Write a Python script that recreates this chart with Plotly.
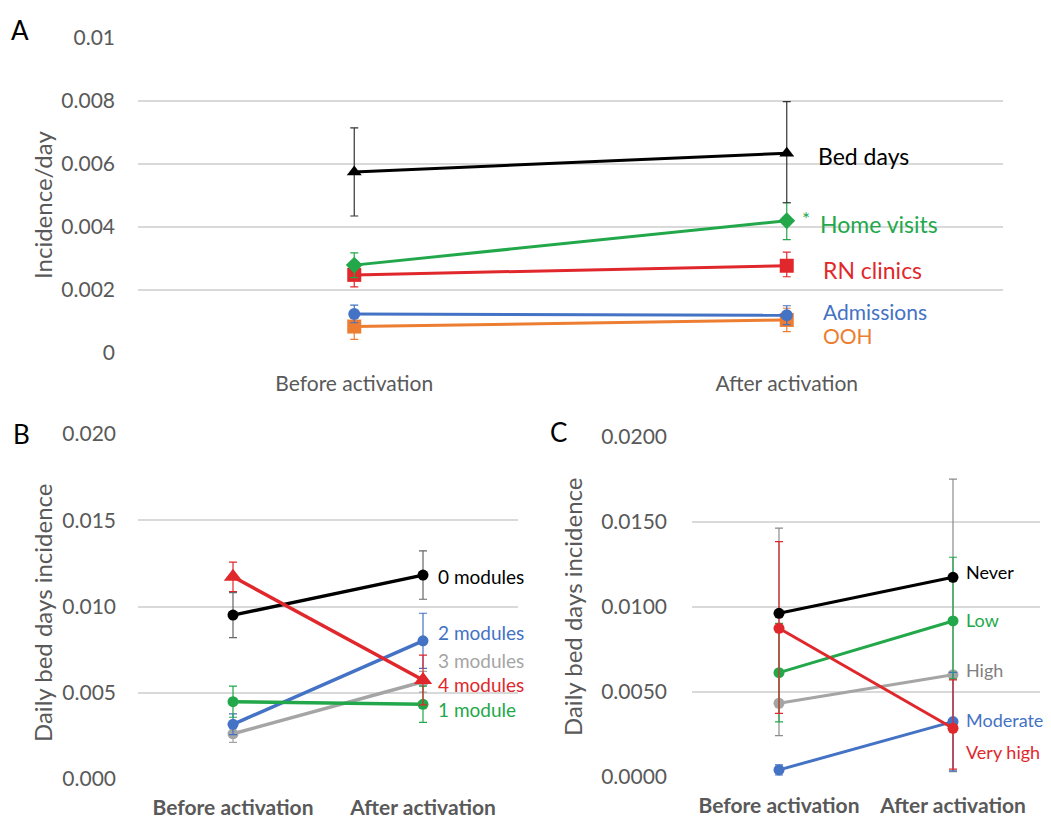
import plotly.graph_objects as go

# ---------------- data ----------------
categories = ["Before activation", "After activation"]

# Panel A (incidence/day)
a_names = ["Bed days", "Home visits", "RN clinics", "Admissions", "OOH"]
a_bed = [0.00575, 0.00634]
a_bed_up = [0.00140, 0.00164]
a_bed_dn = [0.00140, 0.00157]
a_home = [0.00279, 0.00420]
a_home_up = [0.00039, 0.00057]
a_home_dn = [0.00040, 0.00060]
a_rn = [0.00248, 0.00277]
a_rn_up = [0.00040, 0.00043]
a_rn_dn = [0.00038, 0.00035]
a_adm = [0.00124, 0.00120]
a_adm_up = [0.00028, 0.00030]
a_adm_dn = [0.00028, 0.00030]
a_ooh = [0.00084, 0.00105]
a_ooh_up = [0.00041, 0.00037]
a_ooh_dn = [0.00041, 0.00037]

# Panel B (daily bed days incidence by modules)
b_names = ["0 modules", "2 modules", "3 modules", "4 modules", "1 module"]
b_0 = [0.00950, 0.01182]
b_0_err = [0.00130, 0.00140]
b_1 = [0.00448, 0.00433]
b_1_err = [0.00090, 0.00105]
b_2 = [0.00317, 0.00801]
b_2_err = [0.00060, 0.00160]
b_3 = [0.00262, 0.00564]
b_3_err = [0.00050, 0.00060]
b_4 = [0.01172, 0.00574]
b_4_err = [0.00085, 0.00144]

# Panel C (daily bed days incidence by engagement)
c_names = ["Never", "Low", "High", "Moderate", "Very high"]
c_never = [0.00961, 0.01173]
c_low = [0.00612, 0.00916]
c_low_up = [0.00290, 0.00375]
c_low_dn = [0.00290, 0.00340]
c_high = [0.00432, 0.00600]
c_high_up = [0.01030, 0.01150]
c_high_dn = [0.00190, 0.00570]
c_mod = [0.00040, 0.00324]
c_mod_err = [0.00030, 0.00290]
c_vhigh = [0.00873, 0.00285]
c_vhigh_up = [0.00510, 0.00285]
c_vhigh_dn = [0.00500, 0.00240]

# ---------------- styling ----------------
FONT = "Lato, 'Open Sans', Arial, sans-serif"
BLACK = "#000000"
GREEN = "#22a84a"
RED = "#e0282c"
BLUE = "#4472c4"
ORANGE = "#ed7d31"
GRAY = "#a5a5a5"
TICK = "#595959"
GRID = "#d9d9d9"
W, H = 1051, 819

fig = go.Figure()


def add(xa, ya, y, color, symbol, size, lw, up=None, dn=None, ecolor=None, name=""):
    err = None
    if up is not None:
        err = dict(type="data", symmetric=False, array=up,
                   arrayminus=dn if dn is not None else up,
                   color=ecolor or color, thickness=1.2, width=4)
    fig.add_trace(go.Scatter(
        x=categories, y=y, xaxis=xa, yaxis=ya, mode="lines+markers", name=name,
        line=dict(color=color, width=lw),
        marker=dict(color=color, symbol=symbol, size=size),
        error_y=err, showlegend=False, cliponaxis=False))


# Panel A (drawn bottom-first so top series overlay)
add("x", "y", a_ooh, ORANGE, "square", 14, 3, a_ooh_up, a_ooh_dn, name=a_names[4])
add("x", "y", a_adm, BLUE, "circle", 12, 3, a_adm_up, a_adm_dn, name=a_names[3])
add("x", "y", a_rn, RED, "square", 14, 3, a_rn_up, a_rn_dn, name=a_names[2])
add("x", "y", a_home, GREEN, "diamond", 13, 3, a_home_up, a_home_dn, name=a_names[1])
add("x", "y", a_bed, BLACK, "triangle-up", 13, 3, a_bed_up, a_bed_dn, ecolor="#333333", name=a_names[0])

# Panel B
add("x2", "y2", b_3, GRAY, "circle", 11, 3.5, b_3_err, ecolor=GRAY, name=b_names[2])
add("x2", "y2", b_2, BLUE, "circle", 11, 3.5, b_2_err, name=b_names[1])
add("x2", "y2", b_1, GREEN, "circle", 11, 3.5, b_1_err, name=b_names[4])
add("x2", "y2", b_0, BLACK, "circle", 11, 3.5, b_0_err, ecolor="#666666", name=b_names[0])
add("x2", "y2", b_4, RED, "triangle-up", 16, 3.5, b_4_err, name=b_names[3])

# Panel C
add("x3", "y3", c_high, GRAY, "circle", 11, 3, c_high_up, c_high_dn, ecolor="#8c8c8c", name=c_names[2])
add("x3", "y3", c_mod, BLUE, "circle", 11, 3, c_mod_err, name=c_names[3])
add("x3", "y3", c_low, GREEN, "circle", 11, 3, c_low_up, c_low_dn, name=c_names[1])
add("x3", "y3", c_vhigh, RED, "circle", 11, 3, c_vhigh_up, c_vhigh_dn, name=c_names[4])
add("x3", "y3", c_never, BLACK, "circle", 11, 3, name=c_names[0])


def px_x(p):
    return p / W


def px_y(p):
    return 1 - p / H


xcommon = dict(type="category", categoryorder="array", categoryarray=categories,
               range=[-0.5, 1.5], showgrid=False, zeroline=False, showline=False,
               automargin=False, ticks="", tickfont=dict(family=FONT, size=21, color=TICK))
ycommon = dict(showgrid=True, gridcolor=GRID, gridwidth=1.5, zeroline=False,
               automargin=False, showline=False, ticks="",
               tickfont=dict(family=FONT, size=21, color=TICK))
bold_x = dict(family=FONT, size=21, color=TICK, weight="bold")

fig.update_layout(
    template="none",
    width=W, height=H, margin=dict(l=0, r=0, t=0, b=0, pad=0, autoexpand=False),
    paper_bgcolor="white", plot_bgcolor="white",
    font=dict(family=FONT),
    xaxis=dict(xcommon, domain=[px_x(138), px_x(1003)], anchor="y", ticklabelstandoff=16),
    yaxis=dict(ycommon, domain=[px_y(353), px_y(38)], anchor="x", range=[0, 0.01],
               tickvals=[0, 0.002, 0.004, 0.006, 0.008, 0.01],
               ticktext=["0", "0.002", "0.004", "0.006", "0.008", "0.01"],
               ticklabelstandoff=22),
    xaxis2=dict(xcommon, domain=[px_x(138), px_x(518)], anchor="y2", ticklabelstandoff=14,
                tickfont=bold_x),
    yaxis2=dict(ycommon, domain=[px_y(779), px_y(434)], anchor="x2", range=[0, 0.02],
                tickvals=[0, 0.005, 0.01, 0.015, 0.02], tickformat=".3f",
                ticklabelstandoff=21),
    xaxis3=dict(xcommon, domain=[px_x(692), px_x(1040)], anchor="y3", ticklabelstandoff=14,
                tickfont=bold_x),
    yaxis3=dict(ycommon, domain=[px_y(776.7), px_y(436.7)], anchor="x3", range=[0, 0.02],
                tickvals=[0, 0.005, 0.01, 0.015, 0.02], tickformat=".4f",
                ticklabelstandoff=24),
)

ann = []


def label(text, xref, yref, y, color, xshift, size=19, yshift=0):
    ann.append(dict(text=text, x=1, y=y, xref=xref, yref=yref, xanchor="left",
                    yanchor="middle", xshift=xshift, yshift=yshift, showarrow=False,
                    font=dict(family=FONT, size=size, color=color)))


# Panel A series labels
label(a_names[0], "x", "y", a_bed[1], BLACK, 29, 23, -3)
label("*", "x", "y", a_home[1], GREEN, 13, 19, 2)
label(a_names[1], "x", "y", a_home[1], GREEN, 31, 23, -3)
label(a_names[2], "x", "y", a_rn[1], RED, 34, 23, -4)
label(a_names[3], "x", "y", a_adm[1], BLUE, 34, 21, 4)
label(a_names[4], "x", "y", a_ooh[1], ORANGE, 34, 21, -16)

# Panel B labels
label(b_names[0], "x2", "y2", b_0[1], BLACK, 13, 19, -1)
label(b_names[1], "x2", "y2", b_2[1], BLUE, 13, 19, 8)
label(b_names[2], "x2", "y2", b_3[1], GRAY, 13, 19, 21)
label(b_names[3], "x2", "y2", b_4[1], RED, 13, 19, -5)
label(b_names[4], "x2", "y2", b_1[1], GREEN, 13, 19, -5)

# Panel C labels
label(c_names[0], "x3", "y3", c_never[1], BLACK, 11, 18, 5)
label(c_names[1], "x3", "y3", c_low[1], GREEN, 11, 18, 1)
label(c_names[2], "x3", "y3", c_high[1], "#7f7f7f", 11, 18, 5)
label(c_names[3], "x3", "y3", c_mod[1], BLUE, 11, 18, 2)
label(c_names[4], "x3", "y3", c_vhigh[1], RED, 11, 18, -24)

# Panel letters
for letter, x, y in [("A", 20, 30), ("B", 21, 434), ("C", 558, 432)]:
    ann.append(dict(text=letter, x=px_x(x), y=px_y(y), xref="paper", yref="paper",
                    xanchor="center", yanchor="middle", showarrow=False,
                    font=dict(family=FONT, size=26, color=BLACK)))

# Axis titles
for text, x, y in [("Incidence/day", 42, 205), ("Daily bed days incidence", 42, 613),
                   ("Daily bed days incidence", 572, 607)]:
    ann.append(dict(text=text, x=px_x(x), y=px_y(y), xref="paper", yref="paper",
                    xanchor="center", yanchor="middle", textangle=-90, showarrow=False,
                    font=dict(family=FONT, size=24, color=TICK)))

fig.update_layout(annotations=ann)
fig.write_html("out.html", config={"displayModeBar": False},
               post_script="document.body.style.margin='0';document.body.style.overflow='hidden';")
